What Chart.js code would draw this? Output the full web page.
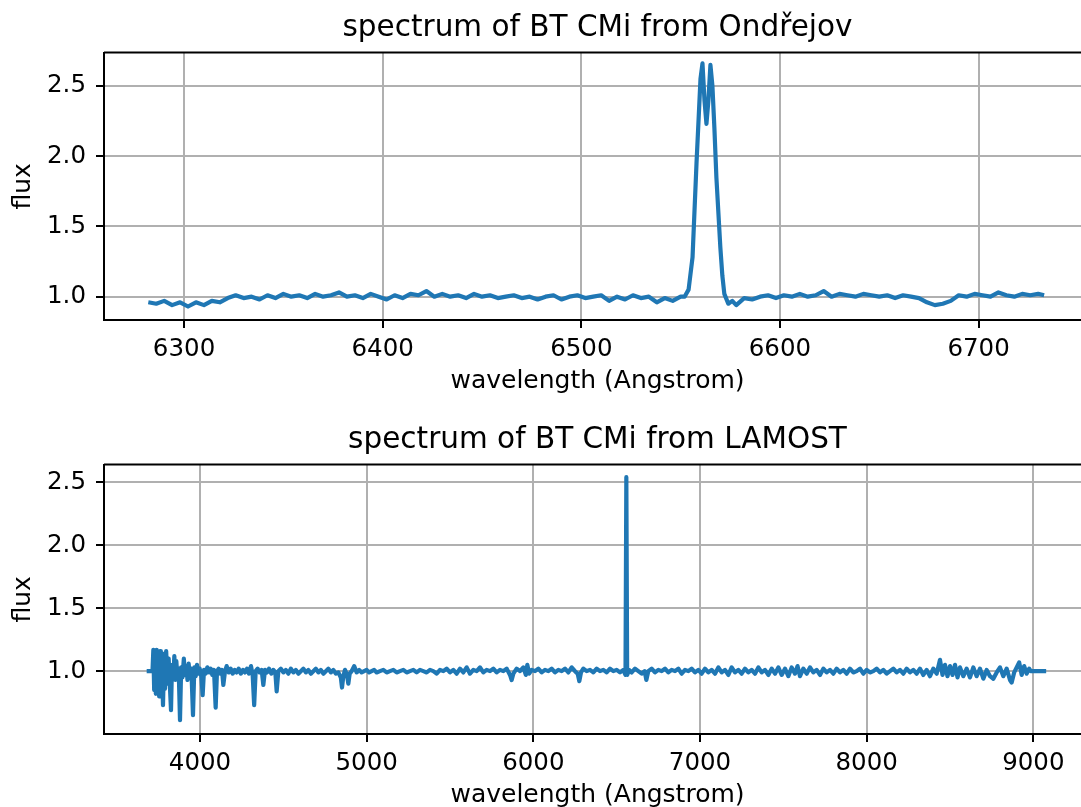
<!DOCTYPE html>
<html>
<head>
<meta charset="utf-8">
<script src="https://cdn.jsdelivr.net/npm/chart.js@4.4.0/dist/chart.umd.min.js"></script>
<style>
  html, body { margin: 0; padding: 0; background: #fff; overflow: hidden; }
  #page { position: relative; width: 1081px; height: 807px; overflow: hidden; }
  .panel { position: absolute; left: 0; }
</style>
</head>
<body>
<div id="page">
  <div class="panel" style="top:0px"><canvas id="topChart" width="1111" height="404"></canvas></div>
  <div class="panel" style="top:404px"><canvas id="lamostChart" width="1111" height="414"></canvas></div>
</div>
<script>
// Ondrejov spectrum (wavelength in Angstrom, normalised flux)
const topWave = [
  6282,6286,6290,6294,6298,6302,6306,6310,6314,6318,
  6322,6326,6330,6334,6338,6342,6346,6350,6354,6358,
  6362,6366,6370,6374,6378,6382,6386,6390,6394,6398,
  6402,6406,6410,6414,6418,6422,6426,6430,6434,6438,
  6442,6446,6450,6454,6458,6462,6466,6470,6474,6478,
  6482,6486,6490,6494,6498,6502,6506,6510,6514,6518,
  6522,6526,6530,6534,6538,6542,6546,6550,6552,6554,
  6556,6558,6559,6560,6561,6562,6563,6564,6565,6566,
  6567,6568,6570,6571,6572,6574,6576,6578,6582,6586,
  6590,6594,6598,6602,6606,6610,6614,6618,6622,6626,
  6630,6634,6638,6642,6646,6650,6654,6658,6662,6666,
  6670,6674,6678,6682,6686,6690,6694,6698,6702,6706,
  6710,6714,6718,6722,6726,6730,6733
];
const topFlux = [
  0.96,0.95,0.97,0.94,0.96,0.93,0.96,0.94,0.97,0.96,
  0.99,1.01,0.99,1.00,0.98,1.01,0.99,1.02,1.00,1.01,
  0.99,1.02,1.00,1.01,1.03,1.00,1.01,0.99,1.02,1.00,
  0.98,1.01,0.99,1.02,1.01,1.04,1.00,1.02,1.00,1.01,
  0.99,1.02,1.00,1.01,0.99,1.00,1.01,0.99,1.00,0.98,
  1.00,1.01,0.98,1.00,1.01,0.99,1.00,1.01,0.97,1.00,
  0.98,1.01,0.99,1.00,0.96,0.99,0.97,1.00,1.00,1.05,
  1.28,1.95,2.25,2.55,2.66,2.40,2.23,2.40,2.65,2.50,
  2.20,1.85,1.35,1.15,1.02,0.95,0.97,0.94,0.99,0.98,
  1.00,1.01,0.99,1.01,1.00,1.02,1.00,1.01,1.04,1.00,
  1.02,1.01,1.00,1.02,1.01,1.00,1.01,0.99,1.01,1.00,
  0.99,0.96,0.94,0.95,0.97,1.01,1.00,1.02,1.01,1.00,
  1.03,1.01,1.00,1.02,1.01,1.02,1.01
];

// LAMOST spectrum
const lamWave = [
  3680,3715,3720,3725,3730,3735,3740,3745,3750,3755,
  3760,3765,3770,3778,3785,3790,3797,3805,3812,3818,
  3826,3832,3840,3846,3852,3858,3864,3872,3880,3887,
  3895,3903,3910,3918,3925,3932,3940,3948,3958,3966,
  3974,3982,3990,3998,4008,4016,4024,4034,4044,4054,
  4064,4074,4084,4094,4102,4112,4122,4132,4140,4150,
  4160,4172,4184,4196,4208,4220,4232,4245,4258,4270,
  4282,4294,4306,4316,4325,4334,4346,4358,4370,4380,
  4390,4402,4414,4428,4440,4452,4460,4470,4485,4500,
  4515,4530,4545,4560,4575,4590,4605,4620,4635,4650,
  4665,4680,4695,4710,4725,4740,4755,4770,4785,4800,
  4815,4830,4845,4852,4860,4870,4882,4890,4898,4910,
  4925,4940,4955,4970,4985,5000,5015,5030,5045,5060,
  5080,5100,5120,5140,5160,5180,5200,5220,5240,5260,
  5280,5300,5320,5340,5360,5380,5400,5420,5440,5460,
  5480,5500,5520,5540,5560,5580,5600,5620,5640,5660,
  5680,5700,5720,5740,5760,5780,5800,5820,5840,5860,
  5870,5880,5900,5920,5940,5955,5964,5975,5990,6010,
  6030,6050,6070,6090,6110,6130,6150,6170,6190,6210,
  6230,6250,6266,6276,6286,6300,6320,6340,6360,6380,
  6400,6420,6440,6460,6480,6500,6520,6540,6553,6558,
  6563,6575,6590,6610,6630,6650,6668,6678,6690,6710,
  6730,6750,6770,6790,6810,6830,6850,6870,6890,6910,
  6930,6950,6970,6990,7010,7030,7050,7070,7090,7110,
  7130,7150,7170,7190,7210,7230,7250,7270,7290,7310,
  7330,7350,7370,7390,7410,7430,7450,7470,7490,7510,
  7530,7550,7570,7585,7600,7620,7640,7660,7680,7700,
  7720,7740,7760,7780,7800,7820,7840,7860,7880,7900,
  7920,7940,7960,7980,8000,8020,8040,8060,8080,8100,
  8120,8140,8160,8180,8200,8220,8240,8260,8280,8300,
  8320,8340,8360,8380,8400,8420,8440,8455,8470,8485,
  8500,8515,8530,8545,8560,8580,8600,8620,8640,8660,
  8680,8700,8720,8740,8760,8780,8800,8820,8840,8860,
  8870,8885,8900,8915,8930,8945,8960,8975,8985,9077
];
const lamFlux = [
  1.00,1.00,1.17,0.85,1.16,0.82,1.17,0.90,1.15,0.80,
  1.16,0.88,1.12,0.73,1.14,0.86,1.16,0.90,1.10,0.92,
  0.69,1.05,0.95,1.12,0.93,1.08,0.96,1.02,0.61,1.03,
  0.95,1.10,0.97,1.04,0.93,1.06,0.95,1.02,0.65,1.03,
  0.96,1.05,0.98,1.02,0.96,0.81,1.01,0.98,1.03,0.99,
  1.02,0.97,1.01,0.71,1.00,1.02,0.98,1.01,0.89,1.00,
  1.04,0.99,1.02,0.98,1.01,0.99,1.02,0.98,1.01,0.99,
  1.02,0.98,1.04,0.97,0.73,1.00,1.02,0.99,1.01,0.89,
  1.01,0.99,1.02,0.98,1.01,0.99,0.84,1.00,1.02,0.99,
  1.01,0.98,1.02,0.99,1.01,0.98,1.00,1.02,0.99,1.01,
  0.98,1.00,1.02,0.99,1.01,0.98,1.00,1.02,0.99,1.01,
  0.98,0.99,0.95,0.87,0.96,1.01,0.97,0.90,0.98,1.00,
  1.04,0.99,1.01,0.99,1.00,1.01,0.99,1.00,1.01,0.99,
  1.00,1.01,0.99,1.00,1.01,0.99,1.00,1.01,0.99,1.00,
  1.01,0.99,1.01,1.00,0.99,1.01,1.00,0.98,1.01,1.00,
  1.02,0.99,1.01,0.98,1.02,0.99,1.03,0.98,1.01,1.00,
  1.03,0.99,1.01,1.00,1.02,0.99,1.01,1.00,1.02,0.97,
  0.93,0.98,1.02,1.00,1.03,0.97,1.05,0.98,1.01,1.00,
  1.02,0.99,1.01,1.00,1.02,0.99,1.01,1.00,1.02,0.99,
  1.03,1.00,0.98,0.92,0.99,1.02,1.00,1.01,0.99,1.02,
  1.00,1.01,0.99,1.02,1.00,1.01,0.99,1.01,0.97,2.54,
  0.97,1.01,0.99,1.02,1.00,0.98,1.00,0.93,1.00,1.02,
  0.99,1.01,1.00,1.02,0.99,1.01,1.00,1.02,0.98,1.01,
  1.00,1.02,0.99,1.01,0.98,1.02,0.99,1.01,0.98,1.03,
  0.99,1.01,0.97,1.03,0.99,1.01,0.98,1.02,0.99,1.01,
  0.98,1.03,0.99,1.01,0.97,1.02,0.98,1.03,0.97,1.02,
  0.96,1.03,0.98,1.04,0.96,1.02,0.98,1.03,0.99,1.01,
  0.97,1.02,0.99,1.01,0.98,1.02,0.99,1.01,0.98,1.02,
  0.99,1.00,1.02,0.98,1.01,0.99,1.00,1.02,0.99,1.01,
  0.98,1.00,1.02,0.99,1.01,0.98,1.02,0.99,1.01,0.98,
  1.02,0.97,1.01,0.96,1.02,0.98,1.09,0.97,1.05,0.96,
  1.04,0.97,1.05,0.95,1.03,0.96,1.02,0.95,1.03,0.96,
  1.02,0.94,1.01,0.96,0.94,0.99,1.03,0.96,1.02,0.93,
  0.91,0.99,1.03,1.07,0.97,1.04,0.98,1.02,1.00,1.00
];

const topXTicks = [6300, 6400, 6500, 6600, 6700];
const lamXTicks = [4000, 5000, 6000, 7000, 8000, 9000];
const yTicks = [1.0, 1.5, 2.0, 2.5];

const lineColor = "#1f77b4";
const fontFamily = "'DejaVu Sans', sans-serif";

// top spine (the right one lies outside the picture)
const frame = {
  id: "frame",
  afterDatasetsDraw(chart) {
    const a = chart.chartArea, ctx = chart.ctx;
    ctx.save();
    ctx.strokeStyle = "#000";
    ctx.lineWidth = 2;
    ctx.beginPath();
    ctx.moveTo(a.left, a.top);
    ctx.lineTo(a.right, a.top);
    ctx.stroke();
    ctx.restore();
  }
};

function spectrumChart(id, title, wave, flux, xTicks, xMin, xMax, yMin, yMax, titlePad)
{
  const pts = wave.map((w, i) => ({x: w, y: flux[i]}));

  new Chart(document.getElementById(id), {
    type: "line",
    data: {
      datasets: [{
        data: pts,
        borderColor: lineColor,
        borderWidth: 4.2,
        borderJoinStyle: "round",
        pointRadius: 0,
        tension: 0,
        fill: false
      }]
    },
    options: {
      responsive: false,
      animation: false,
      devicePixelRatio: 1,
      layout: {padding: {left: 0, top: 0, bottom: 0, right: 20}},
      plugins: {
        legend: {display: false},
        tooltip: {enabled: false},
        title: {
          display: true,
          fullSize: false,
          text: title,
          color: "#000",
          font: {family: fontFamily, size: 29.5, weight: "normal", lineHeight: 1.2},
          padding: titlePad
        }
      },
      scales: {
        x: {
          type: "linear",
          min: xMin,
          max: xMax,
          afterBuildTicks: s => { s.ticks = xTicks.map(v => ({value: v})); },
          afterFit: s => { s.height = 84; },
          ticks: {
            color: "#000",
            font: {family: fontFamily, size: 24.5},
            padding: 7,
            maxRotation: 0,
            callback: v => String(v)
          },
          grid: {color: "#b0b0b0", lineWidth: 2, tickColor: "#000", tickWidth: 2, tickLength: 8},
          border: {display: true, color: "#000", width: 2},
          title: {
            display: true,
            text: "wavelength (Angstrom)",
            color: "#000",
            font: {family: fontFamily, size: 25, lineHeight: 1.2},
            padding: {top: 0, bottom: 7.6}
          }
        },
        y: {
          min: yMin,
          max: yMax,
          afterBuildTicks: s => { s.ticks = yTicks.map(v => ({value: v})); },
          afterFit: s => { s.width = 104; },
          ticks: {
            color: "#000",
            font: {family: fontFamily, size: 24.5},
            padding: 10,
            callback: v => v.toFixed(1)
          },
          grid: {color: "#b0b0b0", lineWidth: 2, tickColor: "#000", tickWidth: 2, tickLength: 8},
          border: {display: true, color: "#000", width: 2},
          title: {
            display: true,
            text: "flux",
            color: "#000",
            font: {family: fontFamily, size: 25, lineHeight: 1.2},
            padding: {top: 8, bottom: 0}
          }
        }
      }
    },
    plugins: [frame]
  });
}

spectrumChart("topChart", "spectrum of BT CMi from Ondřejov", topWave, topFlux, topXTicks,
              6259.7, 6756.6, 0.834, 2.737, {top: 10.6, bottom: 6.6});
spectrumChart("lamostChart", "spectrum of BT CMi from LAMOST", lamWave, lamFlux, lamXTicks,
              3424, 9346, 0.501, 2.640, {top: 18.6, bottom: 6.6});
</script>
</body>
</html>
